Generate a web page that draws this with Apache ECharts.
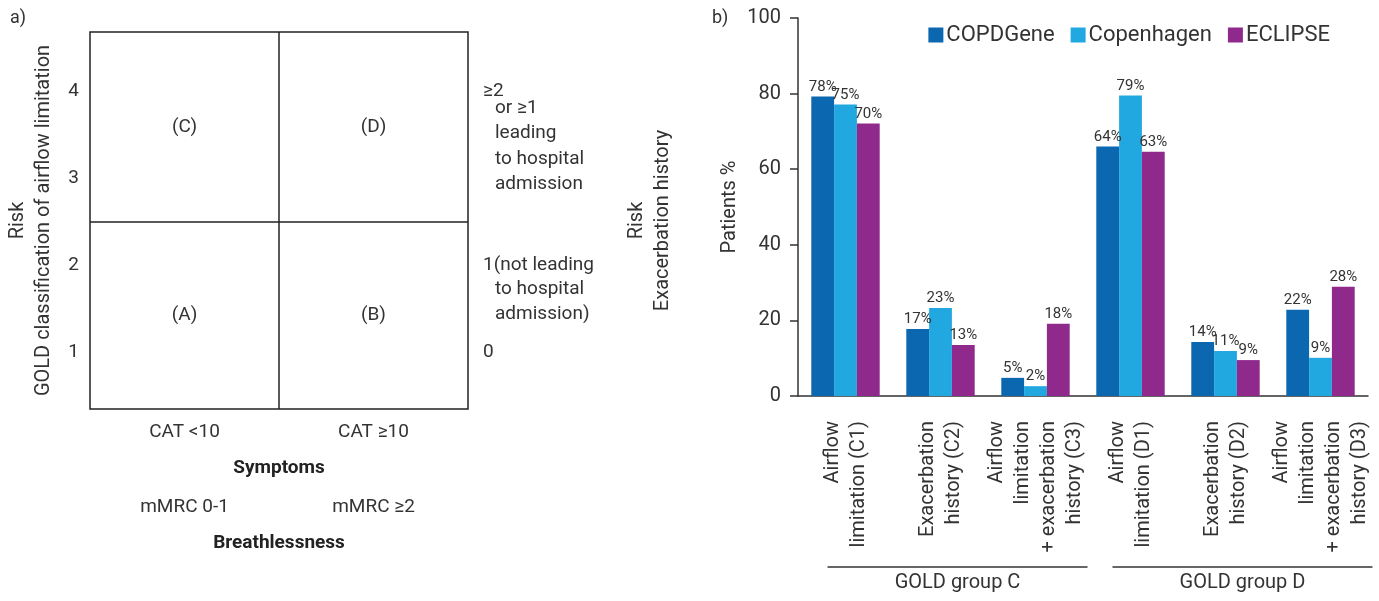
<!DOCTYPE html>
<html><head><meta charset="utf-8">
<script src="https://cdn.jsdelivr.net/npm/echarts@6/dist/echarts.min.js"></script>
<style>html,body{margin:0;padding:0;background:#fff}#c{width:1379px;height:601px}</style>
</head><body><div id="c"></div>
<script>
// ---- Panel b data ----
const categories = [
  'Airflow\nlimitation (C1)',
  'Exacerbation\nhistory (C2)',
  'Airflow\nlimitation\n+ exacerbation\nhistory (C3)',
  'Airflow\nlimitation (D1)',
  'Exacerbation\nhistory (D2)',
  'Airflow\nlimitation\n+ exacerbation\nhistory (D3)'
];
const seriesNames = ['COPDGene', 'Copenhagen', 'ECLIPSE'];
const copdgene   = [79.2, 17.7, 4.8, 66.0, 14.3, 22.8];
const copenhagen = [77.1, 23.3, 2.6, 79.5, 11.9, 10.1];
const eclipse    = [72.1, 13.5, 19.1, 64.6, 9.5, 28.9];
const copdgeneLabels   = [78, 17, 5, 64, 14, 22];
const copenhagenLabels = [75, 23, 2, 79, 11, 9];
const eclipseLabels    = [70, 13, 18, 63, 9, 28];
const yTicks = [0, 20, 40, 60, 80, 100];
const groups = [['GOLD group C', 0, 2], ['GOLD group D', 3, 5]];

// ---- Panel a data ----
const quadrants = [[0.5, 3.59, '(C)'], [1.5, 3.59, '(D)'], [0.5, 1.42, '(A)'], [1.5, 1.42, '(B)']];
const gradeTicks = [1, 2, 3, 4];
const symptomLabels = ['CAT <10', 'CAT ≥10'];
const breathLabels = ['mMRC 0-1', 'mMRC ≥2'];
const exacTickValues = [1, 2, 4];
const exacTickLabels = ['0', '1(not leading', '≥2'];
const exacContinuation = { 4: 'or ≥1\nleading\nto hospital\nadmission', 2: 'to hospital\nadmission)' };

const FONT = 'Roboto, "Noto Sans", sans-serif';
const TXT = '#333';
const colors = ['#0a67b0', '#22a8e0', '#8f2a8c'];
const valueSets = [copdgene, copenhagen, eclipse];
const labelSets = [copdgeneLabels, copenhagenLabels, eclipseLabels];

const chart = echarts.init(document.getElementById('c'), null, { renderer: 'canvas' });

const barSeries = seriesNames.map((n, i) => ({
  type: 'bar', name: n, xAxisIndex: 0, yAxisIndex: 0,
  data: valueSets[i],
  itemStyle: { color: colors[i] },
  barGap: '0%', barCategoryGap: '28%',
  label: {
    show: true, position: 'top', distance: 2,
    formatter: p => labelSets[i][p.dataIndex] + '%',
    fontSize: 15, color: TXT, fontFamily: FONT
  }
}));

const option = {
  animation: false,
  textStyle: { fontFamily: FONT },
  legend: {
    data: seriesNames, right: 44, top: 19,
    itemWidth: 15, itemHeight: 15, itemGap: 16, icon: 'rect',
    textStyle: { fontSize: 22, color: TXT, fontFamily: FONT, padding: [0, 0, 0, -2] }
  },
  grid: [
    { left: 798, top: 18, width: 570, height: 378, outerBoundsMode: 'none', containLabel: false },
    { left: 90, top: 32, width: 378, height: 377, outerBoundsMode: 'none', containLabel: false, show: true, borderColor: '#222', borderWidth: 1.5, backgroundColor: 'transparent' }
  ],
  xAxis: [
    {
      type: 'category', gridIndex: 0, data: categories,
      axisLine: { lineStyle: { color: '#333', width: 1.5 } },
      axisTick: { alignWithLabel: true, length: 10, lineStyle: { color: '#333', width: 1.5 } },
      axisLabel: { interval: 0, rotate: 90, fontSize: 20, lineHeight: 26, margin: 25, color: TXT, fontFamily: FONT }
    },
    {
      type: 'value', gridIndex: 1, min: 0, max: 2, interval: 1,
      axisLine: { show: false }, axisTick: { show: false },
      splitLine: { show: false },
      axisLabel: {
        customValues: [0.5, 1.5],
        formatter: v => { const k = v < 1 ? 0 : 1; return symptomLabels[k] + '\n\n\n' + breathLabels[k]; },
        fontSize: 19, lineHeight: 25, margin: 11, color: TXT, fontFamily: FONT
      },
      name: 'Symptoms\n\n\nBreathlessness', nameLocation: 'middle', nameGap: 47, nameMoveOverlap: false,
      nameTextStyle: { fontSize: 19, lineHeight: 25, fontWeight: 'bold', color: '#222', fontFamily: FONT }
    }
  ],
  yAxis: [
    {
      type: 'value', gridIndex: 0, min: 0, max: 100, interval: 20,
      axisLine: { show: true, lineStyle: { color: '#333', width: 1.5 } },
      axisTick: { show: true, length: 8, lineStyle: { color: '#333', width: 1.5 } },
      splitLine: { show: false },
      axisLabel: { fontSize: 20, color: TXT, margin: 17, fontFamily: FONT },
      name: 'Patients %', nameLocation: 'middle', nameRotate: 90, nameGap: 58, nameMoveOverlap: false,
      nameTextStyle: { fontSize: 20, color: TXT, fontFamily: FONT }
    },
    {
      type: 'value', gridIndex: 1, min: 0.345, max: 4.68,
      axisLine: { show: false }, axisTick: { show: false }, splitLine: { show: false },
      axisLabel: { customValues: gradeTicks, formatter: v => String(v), fontSize: 19, color: TXT, margin: 11, fontFamily: FONT },
      name: 'Risk\nGOLD classification of airflow limitation', nameLocation: 'middle', nameRotate: 90, nameGap: 33, nameMoveOverlap: false,
      nameTextStyle: { fontSize: 20, lineHeight: 26, color: TXT, fontFamily: FONT }
    },
    {
      type: 'value', gridIndex: 1, min: 0.345, max: 4.68, position: 'right',
      axisLine: { show: false }, axisTick: { show: false }, splitLine: { show: false },
      axisLabel: {
        customValues: exacTickValues,
        formatter: v => exacTickLabels[exacTickValues.indexOf(v)],
        fontSize: 19, color: TXT, margin: 15, fontFamily: FONT
      },
      name: 'Risk\nExacerbation history', nameLocation: 'middle', nameRotate: 90, nameGap: 156, nameMoveOverlap: false,
      nameTextStyle: { fontSize: 20, lineHeight: 26, color: TXT, fontFamily: FONT }
    }
  ],
  series: barSeries.concat([{
    type: 'scatter', xAxisIndex: 1, yAxisIndex: 1, data: quadrants, symbolSize: 0,
    itemStyle: { opacity: 1 },
    label: { show: true, position: 'inside', formatter: p => p.data[2], fontSize: 19, color: TXT, fontFamily: FONT },
    markLine: {
      silent: true, symbol: 'none', label: { show: false },
      lineStyle: { color: '#222', width: 1.5, type: 'solid' },
      data: [{ xAxis: 1 }, { yAxis: 2.5 }]
    }
  }])
};
chart.setOption(option);

// ---- annotations positioned from the axes ----
const g = [];
groups.forEach(([name, a, b]) => {
  const x0 = chart.convertToPixel({ xAxisIndex: 0 }, a) - 18;
  const x1 = chart.convertToPixel({ xAxisIndex: 0 }, b) + 52;
  const yLine = 567;
  g.push({ type: 'line', shape: { x1: x0, y1: yLine, x2: x1, y2: yLine }, style: { stroke: '#333', lineWidth: 1.5 } });
  g.push({ type: 'text', x: (x0 + x1) / 2, y: 583, style: { text: name, fontSize: 20, fontFamily: FONT, fill: TXT, align: 'center', verticalAlign: 'middle' } });
});
const boxRight = chart.convertToPixel({ xAxisIndex: 1 }, 2);
Object.keys(exacContinuation).forEach(k => {
  const yv = chart.convertToPixel({ yAxisIndex: 1 }, Number(k));
  const first = Number(k) === 4 ? yv + 17 : yv + 24;
  g.push({ type: 'text', x: boxRight + 27, y: first - 12.75, style: { text: exacContinuation[k], fontSize: 19, lineHeight: 25.5, fontFamily: FONT, fill: TXT, align: 'left', verticalAlign: 'top' } });
});
g.push({ type: 'text', x: 10, y: 18, style: { text: 'a)', fontSize: 18, fontFamily: FONT, fill: TXT, align: 'left', verticalAlign: 'middle' } });
g.push({ type: 'text', x: 712, y: 18, style: { text: 'b)', fontSize: 18, fontFamily: FONT, fill: TXT, align: 'left', verticalAlign: 'middle' } });
chart.setOption({ graphic: g });
</script>
</body></html>
